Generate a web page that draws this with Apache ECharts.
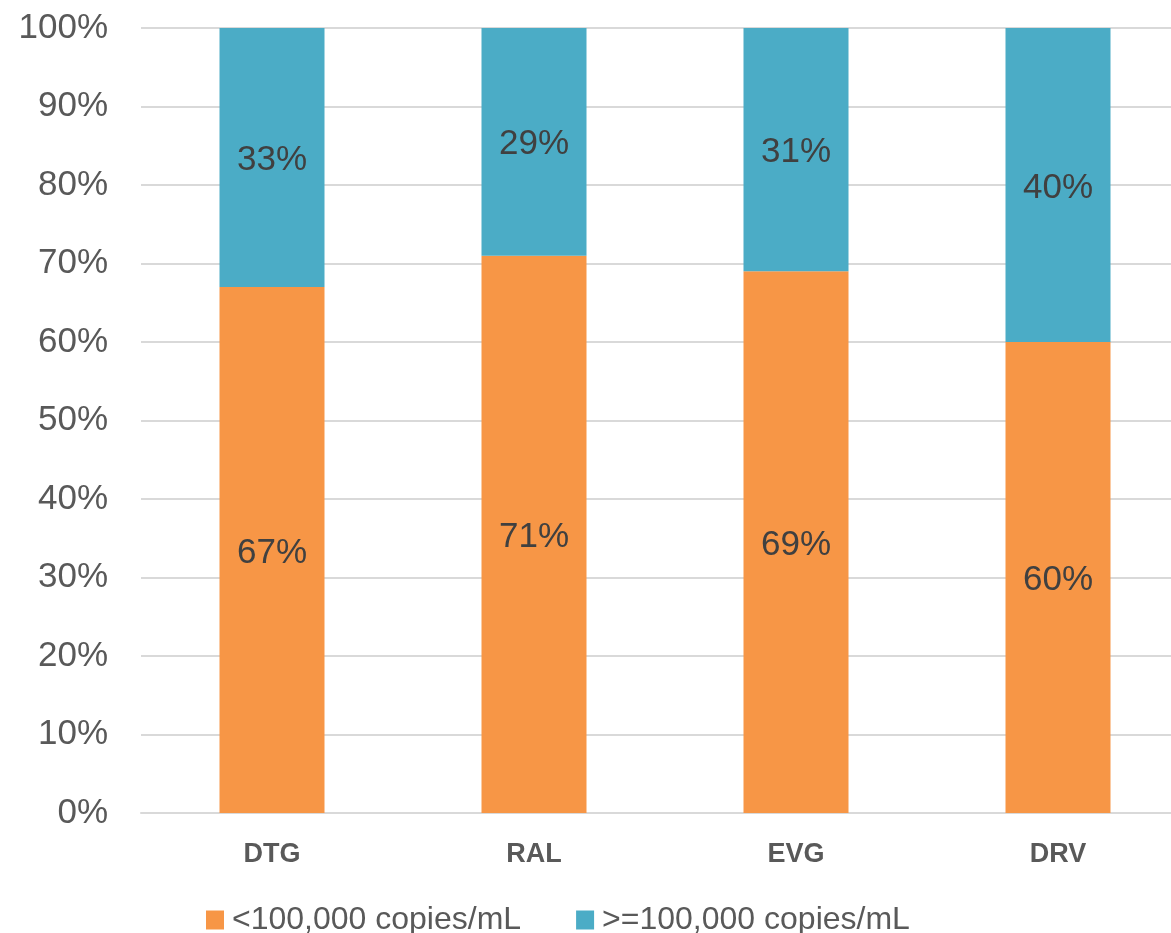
<!DOCTYPE html>
<html>
<head>
<meta charset="utf-8">
<script src="https://cdn.jsdelivr.net/npm/echarts@6/dist/echarts.min.js"></script>
<style>
  html, body { margin: 0; padding: 0; background: #ffffff; overflow: hidden; }
  /* the plot runs a little past the right edge of the page, so the canvas is wider than the window */
  #chart { width: 1200px; height: 933px; }
</style>
</head>
<body>
<div id="chart"></div>
<script>
// Share of patients by baseline viral load, per drug arm (percent)
const categories = ['DTG', 'RAL', 'EVG', 'DRV'];
const seriesNames = ['<100,000 copies/mL', '>=100,000 copies/mL'];
const belowValues = [67, 71, 69, 60];
const aboveValues = [33, 29, 31, 40];

const FONT = "'Liberation Sans', Arial, sans-serif";
const colors = ['#F79646', '#4BACC6'];

const labelStyle = {
  show: true,
  position: 'inside',
  offset: [0, 3],
  formatter: p => p.value + '%',
  color: '#404040',
  fontSize: 35,
  fontFamily: FONT
};

const chart = echarts.init(document.getElementById('chart'), null, { renderer: 'canvas' });

chart.setOption({
  animation: false,
  backgroundColor: '#ffffff',
  grid: { left: 141, top: 28, width: 1048, height: 785, containLabel: false },
  legend: {
    data: seriesNames,
    left: 201,
    top: 899,
    itemWidth: 18,
    itemHeight: 19,
    itemGap: 55,
    icon: 'rect',
    textStyle: { color: '#595959', fontSize: 32, fontFamily: FONT, padding: [0, 0, 0, 3] }
  },
  xAxis: {
    type: 'category',
    data: categories,
    axisLine: { show: true, lineStyle: { color: '#d9d9d9', width: 2 } },
    axisTick: { show: false },
    axisLabel: {
      color: '#595959',
      fontSize: 27,
      fontWeight: 'bold',
      fontFamily: "'Liberation Sans Narrow', 'Liberation Sans', Arial, sans-serif",
      margin: 28
    }
  },
  yAxis: {
    type: 'value',
    min: 0,
    max: 100,
    interval: 10,
    axisLine: { show: false },
    axisTick: { show: false },
    splitLine: { lineStyle: { color: '#d9d9d9', width: 2 } },
    axisLabel: {
      formatter: '{value}%',
      color: '#595959',
      fontSize: 35,
      fontFamily: FONT,
      margin: 33
    }
  },
  series: [
    {
      name: seriesNames[0],
      type: 'bar',
      stack: 'total',
      barWidth: 105,
      data: belowValues,
      itemStyle: { color: colors[0] },
      label: labelStyle
    },
    {
      name: seriesNames[1],
      type: 'bar',
      stack: 'total',
      barWidth: 105,
      data: aboveValues,
      itemStyle: { color: colors[1] },
      label: labelStyle
    }
  ]
});
</script>
</body>
</html>
